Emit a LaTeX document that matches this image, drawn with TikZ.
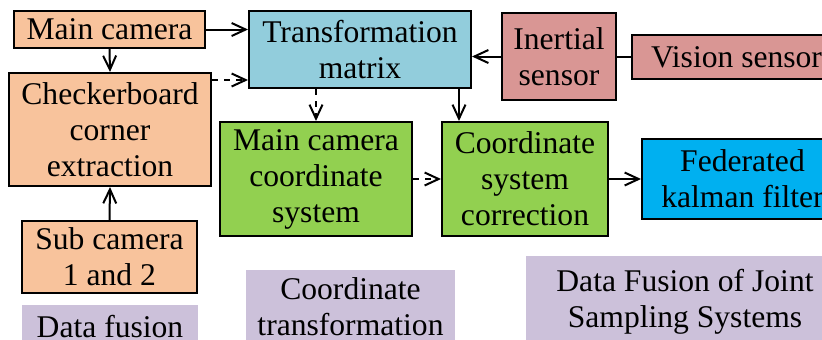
\documentclass[tikz,border=0pt]{standalone}
\usepackage{fontspec}
\setmainfont{Liberation Serif}
\usetikzlibrary{arrows.meta}
\definecolor{peach}{HTML}{F8C39C}
\definecolor{aqua}{HTML}{92CDDC}
\definecolor{rose}{HTML}{D99694}
\definecolor{leaf}{HTML}{92D050}
\definecolor{sky}{HTML}{00B0F0}
\definecolor{lav}{HTML}{CCC1DA}
\begin{document}
\begin{tikzpicture}[x=0.5pt,y=-0.5pt,
  font=\fontsize{15.8}{18}\selectfont,
  box/.style={draw,line width=1pt,inner sep=0pt,align=center},
  tag/.style={fill=lav,inner sep=0pt,align=center},
  arr/.style={line width=1pt,-{Straight Barb[length=7pt,width=6.5pt]}}]
\useasboundingbox (0,0) rectangle (822,339);
\clip (0,0) rectangle (822,339);

% data fusion column
\node[box,fill=peach,minimum width=95.5pt,minimum height=18.5pt] (maincam) at (109.5,29.5) {Main camera};
\node[box,fill=peach,minimum width=101pt,minimum height=56.5pt] (checker) at (110,129.5) {Checkerboard\\corner\\extraction};
\node[box,fill=peach,minimum width=87.5pt,minimum height=36pt] (subcam) at (109.5,257) {Sub camera\\1 and 2};

% coordinate transformation
\node[box,fill=aqua,minimum width=111pt,minimum height=38.5pt] (transf) at (360,49.5) {Transformation\\matrix};
\node[box,fill=leaf,minimum width=96pt,minimum height=57pt] (mccs) at (316,179) {Main camera\\coordinate\\system};
\node[box,fill=leaf,minimum width=83pt,minimum height=57pt] (csc) at (525,179) {Coordinate\\system\\correction};

% sensors and filter
\node[box,fill=rose,minimum width=57pt,minimum height=43.5pt] (inertial) at (559,56.5) {Inertial\\sensor};
\node[box,fill=rose,minimum width=104.5pt,minimum height=22pt] (vision) at (736.5,57) {Vision sensor};
\node[box,fill=sky,minimum width=100.5pt,minimum height=40pt] (fkf) at (742.5,179) {Federated\\kalman filter};

% group labels
\node[tag,minimum width=88pt,minimum height=22pt] (lbdf) at (110,327) {Data fusion};
\node[tag,minimum width=104.5pt,minimum height=36.5pt] (lbct) at (350.5,306.5) {Coordinate\\transformation};
\node[tag,minimum width=159pt,minimum height=46pt] (lbdfj) at (685,302) {Data Fusion of Joint\\Sampling Systems};

\coordinate (tmin) at ([yshift=4.5pt]transf.south west);
\coordinate (tmout) at ([xshift=-6.5pt]transf.south east);

\draw[arr] (maincam.east) -- (maincam -| transf.west);
\draw[arr,dashed] (checker.east |- tmin) -- (tmin);
\draw[arr] (maincam.south) -- (checker.north);
\draw[arr] (subcam.north) -- (checker.south);
\draw[arr,dashed] (transf.south -| mccs) -- (mccs.north);
\draw[arr] (tmout) -- (tmout |- csc.north);
\draw[arr] (inertial.west) -- (inertial -| transf.east);
\draw[line width=1pt] (inertial.east |- vision) -- (vision.west);
\draw[arr,dashed] (mccs.east) -- (csc.west);
\draw[arr] (csc.east) -- (fkf.west);
\end{tikzpicture}
\end{document}
